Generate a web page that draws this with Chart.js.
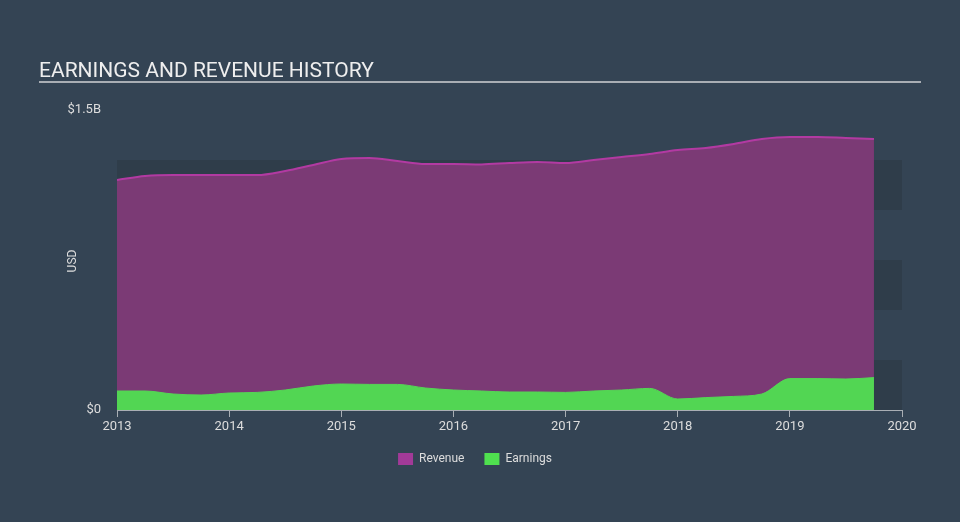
<!DOCTYPE html>
<html>
<head>
<meta charset="utf-8">
<script src="https://cdn.jsdelivr.net/npm/chart.js@4.4.1/dist/chart.umd.min.js"></script>
<style>
  html, body { margin: 0; padding: 0; background: #344454; }
  #wrap { width: 960px; height: 522px; position: relative; }
</style>
</head>
<body>
<div id="wrap"><canvas id="chart" width="960" height="522"></canvas></div>
<script>
// quarterly points, 2013.0 .. 2019.75
const quarters = [
  2013, 2013.25, 2013.5, 2013.75, 2014, 2014.25, 2014.5, 2014.75,
  2015, 2015.25, 2015.5, 2015.75, 2016, 2016.25, 2016.5, 2016.75,
  2017, 2017.25, 2017.5, 2017.75, 2018, 2018.25, 2018.5, 2018.75,
  2019, 2019.25, 2019.5, 2019.75
];
// values in billions USD
const revenue = [
  1.15, 1.17, 1.175, 1.175, 1.175, 1.175, 1.195, 1.225,
  1.255, 1.26, 1.245, 1.23, 1.23, 1.228, 1.235, 1.24,
  1.235, 1.25, 1.265, 1.28, 1.30, 1.31, 1.33, 1.355,
  1.365, 1.365, 1.36, 1.355
];
const earnings = [
  0.095, 0.095, 0.08, 0.075, 0.085, 0.088, 0.10, 0.12,
  0.13, 0.128, 0.128, 0.11, 0.10, 0.095, 0.09, 0.09,
  0.088, 0.095, 0.10, 0.108, 0.055, 0.062, 0.068, 0.08,
  0.157, 0.157, 0.155, 0.162
];
const yearTicks = [2013, 2014, 2015, 2016, 2017, 2018, 2019, 2020];

const toPoints = (vals) => quarters.map((q, i) => ({ x: q, y: vals[i] * 1e9 }));

const decor = {
  id: "decor",
  beforeDraw(chart) {
    const { ctx, chartArea, scales } = chart;
    const y = scales.y;
    ctx.save();
    // alternating bands
    for (let v = 0; v < 1.5e9; v += 0.5e9) {
      const top = y.getPixelForValue(v + 0.25e9);
      const bottom = y.getPixelForValue(v);
      ctx.fillStyle = "#2f3d4a";
      ctx.fillRect(chartArea.left, top, chartArea.right - chartArea.left, bottom - top);
    }
    // title + underline
    ctx.fillStyle = "#eeeeee";
    ctx.font = "21px Roboto";
    ctx.textBaseline = "alphabetic";
    ctx.textAlign = "left";
    ctx.fillText("EARNINGS AND REVENUE HISTORY", 39, 77);
    ctx.fillStyle = "#a9aeb4";
    ctx.fillRect(39, 81, 882, 2);
    // axis title
    ctx.translate(73, 261);
    ctx.rotate(-Math.PI / 2);
    ctx.fillStyle = "#dddddd";
    ctx.font = "12px Roboto";
    ctx.textAlign = "center";
    ctx.textBaseline = "middle";
    ctx.fillText("USD", 0, 0);
    ctx.restore();
  }
};

new Chart(document.getElementById("chart"), {
  type: "line",
  data: {
    datasets: [
      {
        label: "Earnings",
        data: toPoints(earnings),
        borderColor: "#55d655",
        backgroundColor: "#52d653",
        borderWidth: 1,
        fill: "origin",
        pointRadius: 0,
        cubicInterpolationMode: "monotone"
      },
      {
        label: "Revenue",
        data: toPoints(revenue),
        borderColor: "#b23aa2",
        backgroundColor: "#7b3a75",
        borderWidth: 2,
        fill: "origin",
        pointRadius: 0,
        cubicInterpolationMode: "monotone"
      }
    ]
  },
  options: {
    responsive: false,
    animation: false,
    devicePixelRatio: 1,
    layout: { padding: { top: 110, right: 10, left: 0, bottom: 47 } },
    plugins: {
      tooltip: { enabled: false },
      legend: {
        position: "bottom",
        labels: {
          color: "#dddddd",
          font: { family: "Roboto", size: 12 },
          boxWidth: 15,
          boxHeight: 12,
          padding: 20,
          sort: (a, b) => b.datasetIndex - a.datasetIndex,
          generateLabels: (chart) => chart.data.datasets.map((ds, i) => ({
            text: ds.label,
            fillStyle: i === 0 ? "#4fe04f" : "#a23a98",
            strokeStyle: "transparent",
            lineWidth: 0,
            datasetIndex: i,
            fontColor: "#dddddd"
          }))
        }
      }
    },
    scales: {
      x: {
        type: "linear",
        min: 2013,
        max: 2020,
        afterBuildTicks: (scale) => { scale.ticks = yearTicks.map((v) => ({ value: v })); },
        afterFit: (scale) => { scale.height = 23; },
        ticks: {
          color: "#dddddd",
          font: { family: "Roboto", size: 13 },
          padding: 2,
          autoSkip: false,
          maxRotation: 0,
          callback: (v) => String(v)
        },
        grid: { drawOnChartArea: false, drawTicks: true, tickLength: 7, color: "#a9aeb4" },
        border: { color: "#a9aeb4", width: 1 }
      },
      y: {
        min: 0,
        max: 1.5e9,
        afterFit: (scale) => { scale.width = 117; },
        ticks: {
          stepSize: 0.25e9,
          color: "#dddddd",
          font: { family: "Roboto", size: 13 },
          padding: 8,
          callback: (v) => v === 0 ? "$0" : (v === 1.5e9 ? "$1.5B" : "")
        },
        grid: { display: false },
        border: { display: false }
      },
      y2: {
        position: "right",
        min: 0,
        max: 1,
        afterFit: (scale) => { scale.width = 48; },
        ticks: { display: false },
        grid: { display: false },
        border: { display: false }
      }
    }
  },
  plugins: [decor]
});
</script>
</body>
</html>
